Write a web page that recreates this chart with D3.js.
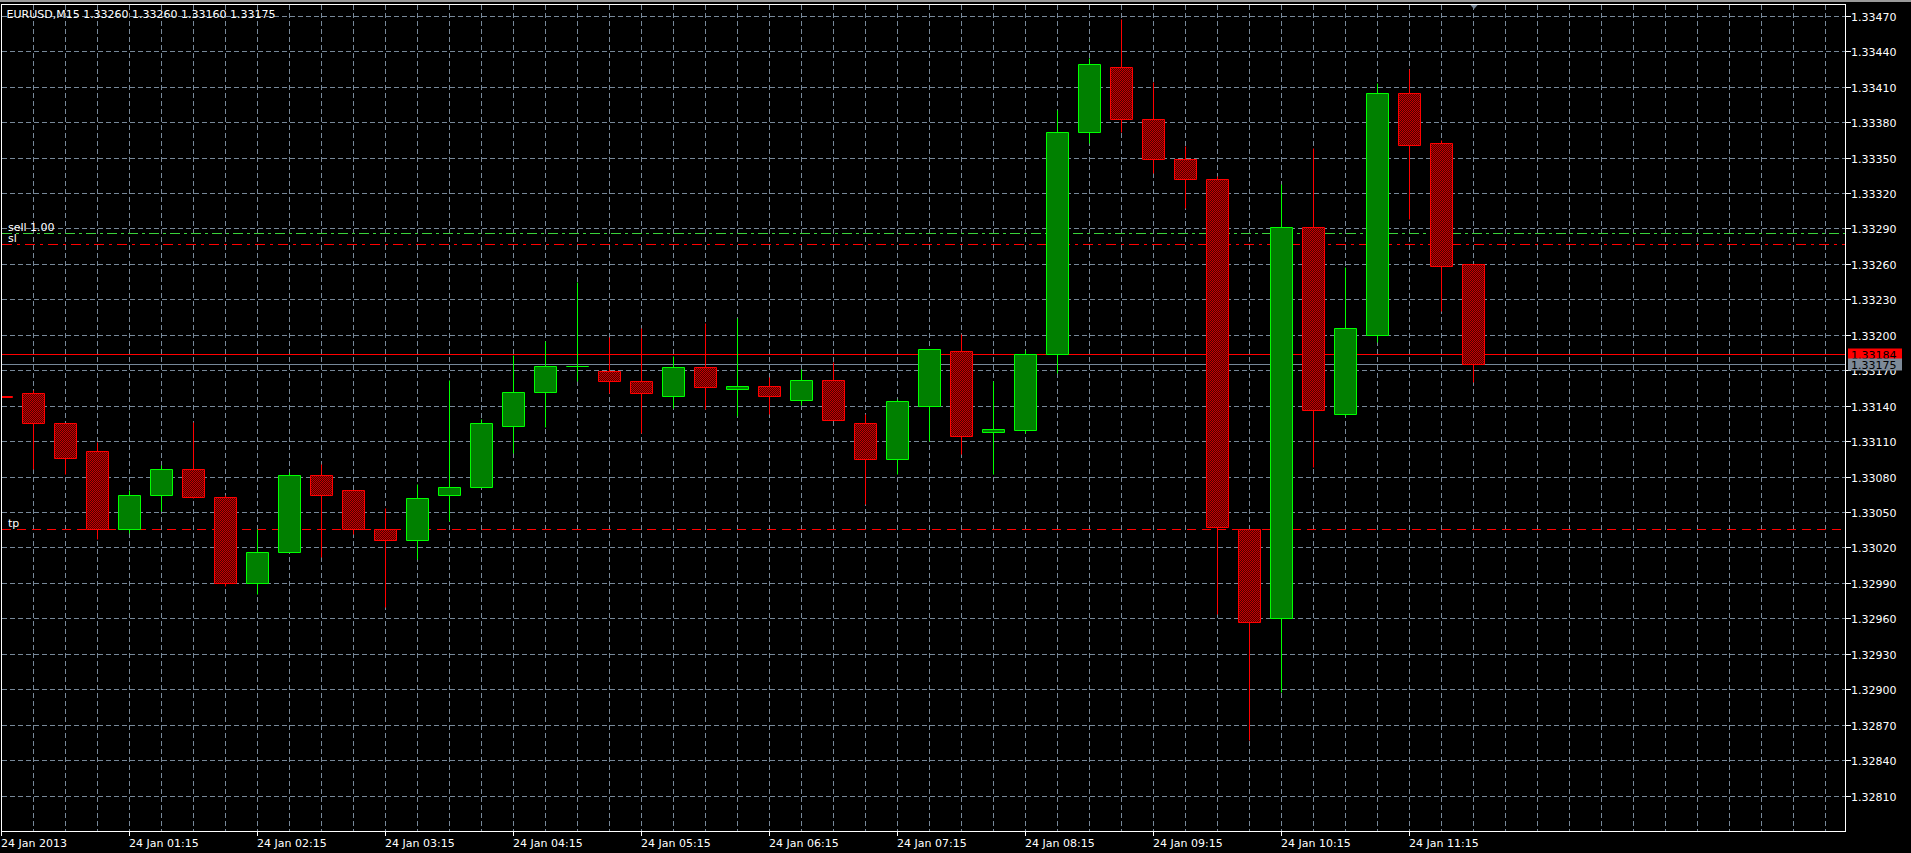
<!DOCTYPE html>
<html><head><meta charset="utf-8">
<script src="https://cdn.jsdelivr.net/npm/d3@7"></script>
<style>
html,body{margin:0;padding:0;background:#000;overflow:hidden;}
svg{display:block;}
text{font-family:"DejaVu Sans",sans-serif;font-size:11px;fill:#fff;}
</style></head><body><svg id="c" width="1911" height="853"></svg>
<script>
const chartTitle = "EURUSD,M15  1.33260 1.33260 1.33160 1.33175";
const times = ["00:15","00:30","00:45","01:00","01:15","01:30","01:45","02:00","02:15","02:30","02:45","03:00","03:15","03:30","03:45","04:00","04:15","04:30","04:45","05:00","05:15","05:30","05:45","06:00","06:15","06:30","06:45","07:00","07:15","07:30","07:45","08:00","08:15","08:30","08:45","09:00","09:15","09:30","09:45","10:00","10:15","10:30","10:45","11:00","11:15","11:30","11:45"];
const opens = [1.33148,1.33151,1.33125,1.33102,1.33036,1.33064,1.33086,1.33063,1.32990,1.33016,1.33081,1.33069,1.33036,1.33026,1.33064,1.33071,1.33123,1.33152,1.33174,1.33169,1.33161,1.33148,1.33173,1.33154,1.33157,1.33145,1.33162,1.33125,1.33095,1.33140,1.33186,1.33118,1.33119,1.33184,1.33372,1.33427,1.33383,1.33349,1.33332,1.33036,1.32960,1.33291,1.33133,1.33200,1.33405,1.33362,1.33260];
const highs = [1.33149,1.33153,1.33125,1.33109,1.33069,1.33090,1.33126,1.33064,1.33036,1.33084,1.33091,1.33069,1.33053,1.33074,1.33162,1.33129,1.33183,1.33195,1.33245,1.33198,1.33206,1.33182,1.33210,1.33214,1.33164,1.33171,1.33177,1.33133,1.33146,1.33188,1.33201,1.33161,1.33187,1.33390,1.33434,1.33467,1.33414,1.33360,1.33334,1.33036,1.33328,1.33358,1.33257,1.33413,1.33425,1.33365,1.33260];
const lows = [1.33146,1.33086,1.33082,1.33027,1.33032,1.33051,1.33062,1.32987,1.32981,1.33016,1.33012,1.33031,1.32970,1.33010,1.33042,1.33071,1.33100,1.33122,1.33161,1.33151,1.33117,1.33138,1.33137,1.33131,1.33133,1.33141,1.33128,1.33057,1.33082,1.33110,1.33099,1.33082,1.33117,1.33168,1.33362,1.33372,1.33337,1.33307,1.32964,1.32857,1.32898,1.33088,1.33131,1.33194,1.33298,1.33220,1.33160];
const closes = [1.33147,1.33125,1.33096,1.33036,1.33064,1.33086,1.33063,1.32990,1.33016,1.33081,1.33064,1.33036,1.33026,1.33062,1.33071,1.33125,1.33152,1.33174,1.33174,1.33161,1.33151,1.33173,1.33156,1.33157,1.33148,1.33162,1.33128,1.33095,1.33144,1.33188,1.33114,1.33120,1.33184,1.33372,1.33429,1.33383,1.33349,1.33332,1.33037,1.32957,1.33291,1.33136,1.33206,1.33405,1.33361,1.33258,1.33175];
const priceTicks = [1.32810,1.32840,1.32870,1.32900,1.32930,1.32960,1.32990,1.33020,1.33050,1.33080,1.33110,1.33140,1.33170,1.33200,1.33230,1.33260,1.33290,1.33320,1.33350,1.33380,1.33410,1.33440,1.33470];
const xTickTimes = ["00:15","01:15","02:15","03:15","04:15","05:15","06:15","07:15","08:15","09:15","10:15","11:15"];
const xTickLabels = ["24 Jan 2013","24 Jan 01:15","24 Jan 02:15","24 Jan 03:15","24 Jan 04:15","24 Jan 05:15","24 Jan 06:15","24 Jan 07:15","24 Jan 08:15","24 Jan 09:15","24 Jan 10:15","24 Jan 11:15"];
const orderNames = ["sell 1.00","sl","tp"];
const orderPrices = [1.33286,1.33277,1.33036];
const askPrice = 1.33184;
const bidPrice = 1.33175;

const svg = d3.select("#c");
const W = 1911, H = 853;
const L = 2, R = 1845, T = 5, B = 831;
const y = d3.scaleLinear().domain([1.32780, 1.33480]).range([831, 4]);
const x = d3.scaleLinear().domain([0, 1]).range([1.5, 33.5]);
const px = v => Math.floor(v) + 0.5;
const py = v => Math.round(v) + 0.5;
const fmt = d3.format(".5f");

svg.append("rect").attr("width", W).attr("height", H).attr("fill", "#000");
svg.append("rect").attr("x", 0).attr("y", 0).attr("width", W).attr("height", 2).attr("fill", "#9a9a9a");

const defs = svg.append("defs");
const pat = defs.append("pattern").attr("id", "bear").attr("patternUnits", "userSpaceOnUse")
  .attr("width", 2).attr("height", 2);
pat.append("rect").attr("width", 2).attr("height", 2).attr("fill", "#4a0000");
pat.append("rect").attr("x", 0).attr("y", 0).attr("width", 1).attr("height", 1).attr("fill", "#c80000");
pat.append("rect").attr("x", 1).attr("y", 1).attr("width", 1).attr("height", 1).attr("fill", "#c80000");
defs.append("clipPath").attr("id", "plot").append("rect")
  .attr("x", L).attr("y", T).attr("width", R - L).attr("height", B - T);

const plot = svg.append("g").attr("clip-path", "url(#plot)");

// grid
const nV = d3.range(1, 70).filter(i => x(i) < R);
plot.append("g").selectAll("line").data(nV).join("line")
  .attr("x1", i => px(x(i))).attr("x2", i => px(x(i)))
  .attr("y1", T).attr("y2", B)
  .attr("stroke", "#778899").attr("stroke-width", 1).attr("stroke-dasharray", "5,3");
plot.append("g").selectAll("line").data(priceTicks).join("line")
  .attr("x1", L).attr("x2", R)
  .attr("y1", d => py(y(d))).attr("y2", d => py(y(d)))
  .attr("stroke", "#778899").attr("stroke-width", 1).attr("stroke-dasharray", "5,3");

// order lines
const orderStyle = [
  {color: "#3ad23a", dash: "10,4,3,4"},
  {color: "#ff0000", dash: "10,5,3,5"},
  {color: "#ff0000", dash: "9,6"}
];
plot.append("g").selectAll("line").data(orderPrices).join("line")
  .attr("x1", L).attr("x2", R)
  .attr("y1", d => py(y(d))).attr("y2", d => py(y(d)))
  .attr("stroke", (d, i) => orderStyle[i].color)
  .attr("stroke-dasharray", (d, i) => orderStyle[i].dash);
plot.append("g").selectAll("text").data(orderPrices).join("text")
  .attr("x", 8).attr("y", d => Math.round(y(d)) - 2)
  .text((d, i) => orderNames[i]);

// ask / bid lines
plot.append("line").attr("x1", L).attr("x2", R)
  .attr("y1", py(y(askPrice))).attr("y2", py(y(askPrice)))
  .attr("stroke", "#ff0000");
plot.append("line").attr("x1", L).attr("x2", R)
  .attr("y1", py(y(bidPrice))).attr("y2", py(y(bidPrice)))
  .attr("stroke", "#778899");

// candles
const idx = d3.range(times.length);
const up = i => closes[i] >= opens[i];
plot.append("g").selectAll("line").data(idx).join("line")
  .attr("x1", i => px(x(i))).attr("x2", i => px(x(i)))
  .attr("y1", i => py(y(highs[i]))).attr("y2", i => py(y(lows[i])))
  .attr("stroke", i => up(i) ? "#00ff00" : "#ff0000");
plot.append("g").selectAll("path").data(idx).join("path")
  .attr("d", i => {
    const cx = px(x(i));
    const t = py(y(Math.max(opens[i], closes[i])));
    const b = py(y(Math.min(opens[i], closes[i])));
    const x0 = cx - 11, x1 = cx + 11;
    return `M${x0},${t}H${x1}V${b}H${x0}Z`;
  })
  .attr("fill", i => up(i) ? "#008000" : "url(#bear)")
  .attr("stroke", i => up(i) ? "#00ff00" : "#ff0000")
  .attr("stroke-width", 1);

// shift marker
const mx = px(x(times.length - 1));
svg.append("path").attr("d", `M${mx - 4},4L${mx + 5},4L${mx + 0.5},9Z`).attr("fill", "#778899");

// frame
svg.append("rect").attr("x", 1.5).attr("y", 4.5).attr("width", R - 1.5 + 0.5).attr("height", B - 4.5 + 0.5)
  .attr("fill", "none").attr("stroke", "#fff").attr("stroke-width", 1);

// title
svg.append("text").attr("x", 6.5).attr("y", 18).text(chartTitle);

// right axis
const ra = svg.append("g");
ra.selectAll("line").data(priceTicks).join("line")
  .attr("x1", R + 0.5).attr("x2", R + 6)
  .attr("y1", d => py(y(d))).attr("y2", d => py(y(d)))
  .attr("stroke", "#fff");
ra.selectAll("text").data(priceTicks).join("text")
  .attr("x", 1851).attr("y", d => Math.round(y(d)) + 4.5)
  .text(d => fmt(d));

// price labels
function priceLabel(p, fill) {
  const yy = Math.round(y(p));
  svg.append("rect").attr("x", 1848).attr("y", yy - 5.5).attr("width", 54).attr("height", 12).attr("fill", fill);
  svg.append("text").attr("x", 1851).attr("y", yy + 4.5).style("fill", "#000").text(fmt(p));
}
priceLabel(askPrice, "#ff0000");
priceLabel(bidPrice, "#7d8a98");

// bottom axis
const ba = svg.append("g");
const tickIdx = xTickTimes.map(t => times.indexOf(t));
ba.selectAll("line").data(tickIdx).join("line")
  .attr("x1", i => px(x(i))).attr("x2", i => px(x(i)))
  .attr("y1", B).attr("y2", B + 5)
  .attr("stroke", "#fff");
ba.selectAll("text").data(tickIdx).join("text")
  .attr("x", i => Math.floor(x(i)))
  .attr("y", 847)
  .text((i, k) => xTickLabels[k]);
</script></body></html>
